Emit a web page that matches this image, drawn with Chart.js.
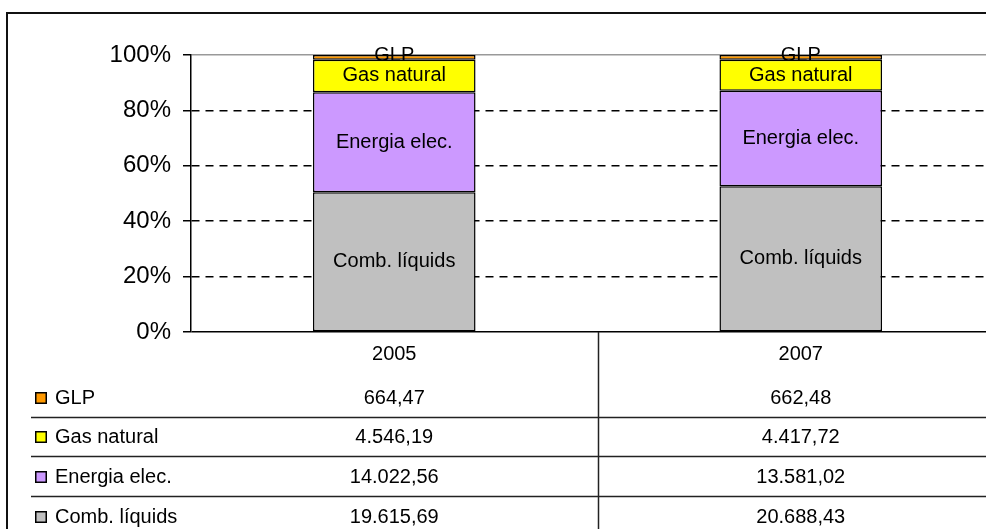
<!DOCTYPE html>
<html>
<head>
<meta charset="utf-8">
<script src="https://cdn.jsdelivr.net/npm/chart.js@4.4.1/dist/chart.umd.min.js"></script>
<style>
    html, body { margin: 0; padding: 0; background: #fff; overflow: hidden; width: 986px; height: 529px; }
    #frame { position: absolute; left: 6px; top: 12px; width: 1200px; height: 700px; border: 2px solid #111; box-sizing: border-box; }
    #wrap { position: absolute; left: 0; top: 0; width: 1004px; height: 529px; }
</style>
</head>
<body>
<div id="frame"></div>
<div id="wrap"><canvas id="energyChart"></canvas></div>
<script>
// ===== Dades =====
const years = ['2005', '2007'];
const seriesNames = ['Comb. líquids', 'Energia elec.', 'Gas natural', 'GLP'];
const combLiquids = [19615.69, 20688.43];
const energiaElec = [14022.56, 13581.02];
const gasNatural = [4546.19, 4417.72];
const glp = [664.47, 662.48];
const tableLabels = {
    'GLP': ['664,47', '662,48'],
    'Gas natural': ['4.546,19', '4.417,72'],
    'Energia elec.': ['14.022,56', '13.581,02'],
    'Comb. líquids': ['19.615,69', '20.688,43']
};
const seriesColors = ['#c0c0c0', '#cc99ff', '#ffff00', '#ff9900'];

// percentatge per any (gràfic 100% apilat)
const rawSeries = [combLiquids, energiaElec, gasNatural, glp];
const totals = years.map((y, i) => rawSeries.reduce((s, arr) => s + arr[i], 0));
const pctSeries = rawSeries.map(arr => arr.map((v, i) => v / totals[i] * 100));

const FONT = 'Liberation Sans, Arial, sans-serif';

// etiquetes dins de cada segment
const segmentLabels = {
    id: 'segmentLabels',
    afterDatasetsDraw(chart) {
        const c = chart.ctx;
        c.save();
        c.font = '20px ' + FONT;
        c.fillStyle = '#000';
        c.textAlign = 'center';
        c.textBaseline = 'middle';
        chart.data.datasets.forEach((ds, di) => {
            chart.getDatasetMeta(di).data.forEach(el => {
                let yMid = (el.y + el.base) / 2;
                if (ds.label === 'GLP') yMid -= 2;
                c.fillText(ds.label, el.x, yMid);
            });
        });
        c.restore();
    }
};

// taula de dades sota el gràfic
const dataTable = {
    id: 'dataTable',
    afterDraw(chart) {
        const c = chart.ctx;
        const xs = chart.scales.x;
        const area = chart.chartArea;
        const half = (xs.getPixelForValue(1) - xs.getPixelForValue(0)) / 2;
        const rowOrder = ['GLP', 'Gas natural', 'Energia elec.', 'Comb. líquids'];
        const rowCenters = [398, 437, 477, 517];
        const rowLines = [417, 456, 496];
        c.save();
        c.strokeStyle = '#222';
        c.lineWidth = 1.5;
        // línies verticals
        years.forEach((y, i) => {
            const xr = Math.round(xs.getPixelForValue(i) + half) + 0.5;
            c.beginPath();
            c.moveTo(xr, area.bottom);
            c.lineTo(xr, chart.height);
            c.stroke();
        });
        // línies horitzontals
        rowLines.forEach(yl => {
            c.beginPath();
            c.moveTo(31, yl + 0.5);
            c.lineTo(area.right, yl + 0.5);
            c.stroke();
        });
        c.font = '20px ' + FONT;
        c.fillStyle = '#000';
        c.textBaseline = 'middle';
        c.textAlign = 'center';
        years.forEach((y, i) => c.fillText(y, xs.getPixelForValue(i), 354));
        rowOrder.forEach((name, r) => {
            const yc = rowCenters[r];
            const col = seriesColors[seriesNames.indexOf(name)];
            c.fillStyle = col;
            c.fillRect(35, yc - 6, 12, 12);
            c.strokeStyle = '#000';
            c.lineWidth = 1.5;
            c.strokeRect(35.75, yc - 5.25, 10.5, 10.5);
            c.fillStyle = '#000';
            c.textAlign = 'left';
            c.fillText(name, 55, yc);
            c.textAlign = 'center';
            tableLabels[name].forEach((txt, i) => c.fillText(txt, xs.getPixelForValue(i), yc));
        });
        c.restore();
    }
};

const ctx = document.getElementById('energyChart').getContext('2d');
const energyChart = new Chart(ctx, {
    type: 'bar',
    data: {
        labels: years,
        datasets: seriesNames.map((name, i) => ({
            label: name,
            data: pctSeries[i],
            backgroundColor: seriesColors[i],
            borderColor: '#000',
            borderWidth: 1.5,
            borderSkipped: false,
            barPercentage: 0.4,
            categoryPercentage: 1
        }))
    },
    options: {
        responsive: true,
        maintainAspectRatio: false,
        animation: false,
        layout: { padding: { top: 55, bottom: 197, left: 0, right: 0 } },
        plugins: { legend: { display: false }, tooltip: { enabled: false } },
        scales: {
            x: {
                stacked: true,
                display: false,
                offset: true
            },
            y: {
                stacked: true,
                min: 0,
                max: 100,
                afterFit: s => { s.width = 191; },
                ticks: {
                    stepSize: 20,
                    padding: 12,
                    color: '#000',
                    font: { family: FONT, size: 24 },
                    callback: v => v + '%'
                },
                grid: {
                    drawOnChartArea: true,
                    tickLength: 8,
                    lineWidth: 1.5,
                    color: ctx => ctx.tick && ctx.tick.value === 100 ? '#999' : '#000',
                    tickColor: '#000',
                    tickBorderDash: []
                },
                border: {
                    display: true,
                    color: '#000',
                    width: 1.5,
                    dash: ctx => (ctx.tick && (ctx.tick.value === 0 || ctx.tick.value === 100)) ? [] : [8, 6]
                }
            }
        }
    },
    plugins: [segmentLabels, dataTable]
});
</script>
</body>
</html>
